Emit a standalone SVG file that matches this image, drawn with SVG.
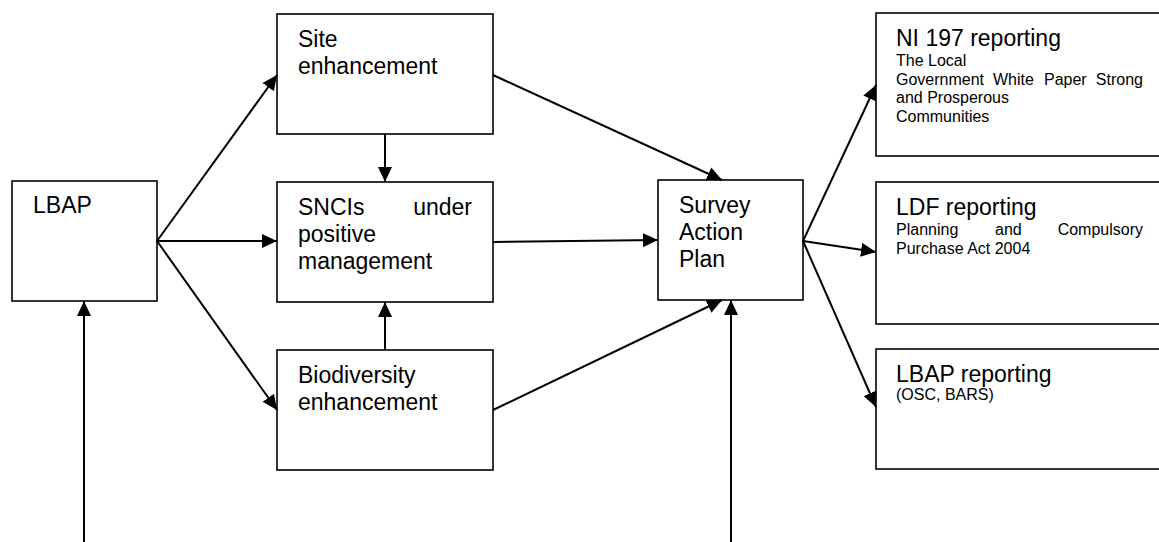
<svg xmlns="http://www.w3.org/2000/svg" width="1159" height="542" viewBox="0 0 1159 542">
<style>
.box{fill:#fff;stroke:#000;stroke-width:1.6}
.t{font-family:"Liberation Sans",Arial,sans-serif;font-size:23px;fill:#000}
.s{font-family:"Liberation Sans",Arial,sans-serif;font-size:16px;fill:#000}
.c{fill:none;stroke:#000;stroke-width:2;marker-end:url(#ah)}
</style>
<defs>
<marker id="ah" viewBox="0 0 15 14" refX="15" refY="7" markerWidth="15" markerHeight="14" markerUnits="userSpaceOnUse" orient="auto">
<path d="M0,0 L15,7 L0,14 z" fill="#000"/>
</marker>
</defs>
<rect width="1159" height="542" fill="#fff"/>
<g id="lbap"><rect class="box" x="12" y="181" width="145" height="120"/><text class="t" x="33" y="213">LBAP</text></g>
<g id="site"><rect class="box" x="277" y="14" width="216" height="120"/><text class="t" x="298" y="47">Site</text><text class="t" x="298" y="74">enhancement</text></g>
<g id="sncis"><rect class="box" x="277" y="182" width="216" height="120"/><text class="t" x="298" y="215">SNCIs</text><text class="t" x="472" y="215" text-anchor="end">under</text><text class="t" x="298" y="242">positive</text><text class="t" x="298" y="269">management</text></g>
<g id="biodiversity"><rect class="box" x="277" y="350" width="216" height="120"/><text class="t" x="298" y="383">Biodiversity</text><text class="t" x="298" y="410">enhancement</text></g>
<g id="survey"><rect class="box" x="658" y="180" width="145" height="120"/><text class="t" x="679" y="213">Survey</text><text class="t" x="679" y="240">Action</text><text class="t" x="679" y="267">Plan</text></g>
<g id="ni197"><rect class="box" x="876" y="13" width="300" height="143"/><text class="t" x="896" y="46">NI 197 reporting</text><text class="s" x="896" y="66">The Local</text><text class="s" y="84.5"><tspan x="896">Government</tspan><tspan x="993">White</tspan><tspan x="1044">Paper</tspan><tspan x="1143" text-anchor="end">Strong</tspan></text><text class="s" x="896" y="103">and Prosperous</text><text class="s" x="896" y="121.5">Communities</text></g>
<g id="ldf"><rect class="box" x="876" y="182" width="300" height="142"/><text class="t" x="896" y="215">LDF reporting</text><text class="s" y="235"><tspan x="896">Planning</tspan><tspan x="995">and</tspan><tspan x="1143" text-anchor="end">Compulsory</tspan></text><text class="s" x="896" y="253.5">Purchase Act 2004</text></g>
<g id="lbapreporting"><rect class="box" x="876" y="349" width="300" height="120"/><text class="t" x="896" y="382">LBAP reporting</text><text class="s" x="896" y="400">(OSC, BARS)</text></g>
<g id="connectors">
<path class="c" d="M157,241 L277,75"/>
<path class="c" d="M157,241 L277,241"/>
<path class="c" d="M157,241 L277,410"/>
<path class="c" d="M385,134 L385,182"/>
<path class="c" d="M385,350 L385,302"/>
<path class="c" d="M493,75 L722,180"/>
<path class="c" d="M493,242 L658,240"/>
<path class="c" d="M493,410 L722,300"/>
<path class="c" d="M731,542 L731,300"/>
<path class="c" d="M84,542 L84,301"/>
<path class="c" d="M803,241 L876,85"/>
<path class="c" d="M803,241 L876,252"/>
<path class="c" d="M803,241 L876,407"/>
</g>
</svg>
